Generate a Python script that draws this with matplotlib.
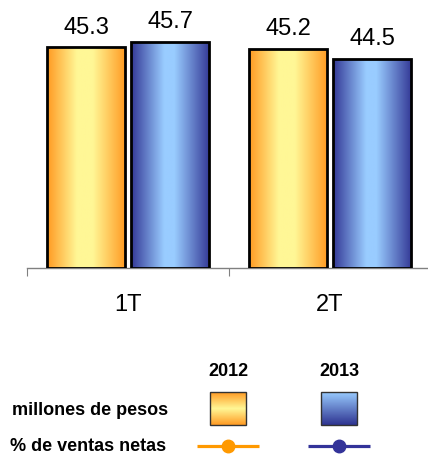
import numpy as np
import matplotlib
matplotlib.use('Agg')
import matplotlib.pyplot as plt
from matplotlib.colors import LinearSegmentedColormap

plt.rcParams['font.family'] = ['Liberation Sans', 'DejaVu Sans']

# values
quarters = ['1T', '2T']
years = ['2012', '2013']
values_2012 = [45.3, 45.2]
values_2013 = [45.7, 44.5]
row_labels = ['millones de pesos', '% de ventas netas']

YMIN, YMAX = 29.75, 47.3

ORANGE_H = LinearSegmentedColormap.from_list(
    'orange_h', [(0, '#FF9A22'), (0.38, '#FFF796'), (0.58, '#FFF796'), (1, '#FF9A22')])
BLUE_H = LinearSegmentedColormap.from_list(
    'blue_h', [(0, '#333896'), (0.42, '#99CCFF'), (0.55, '#99CCFF'), (1, '#333896')])
ORANGE_V = LinearSegmentedColormap.from_list(
    'orange_v', [(0, '#FF9A22'), (0.5, '#FFF796'), (1, '#FF9A22')])
BLUE_V = LinearSegmentedColormap.from_list(
    'blue_v', [(0, '#99CCFF'), (1, '#2E3390')])
LINE_COLORS = ['#FF9900', '#333399']

W, H = 428, 456
fig = plt.figure(figsize=(W / 100, H / 100), dpi=100)


def px_axes(x0, y0, x1, y1):
    # axes box given in pixel coords measured from the top left
    return fig.add_axes([x0 / W, 1 - y1 / H, (x1 - x0) / W, (y1 - y0) / H])


def gradient_fill(ax, rect, cmap, vertical=False):
    x, y = rect.get_xy()
    w, h = rect.get_width(), rect.get_height()
    grad = np.linspace(0, 1, 256)
    grad = grad.reshape(-1, 1) if vertical else grad.reshape(1, -1)
    im = ax.imshow(grad, extent=[x, x + w, y, y + h], origin='upper',
                   aspect='auto', cmap=cmap, zorder=rect.get_zorder() - 0.1)
    im.set_clip_path(rect)


ax = px_axes(27, 20, 431, 269)
x = np.arange(len(quarters))
width = 0.39
offset = 0.208

for vals, cmap, sign in ((values_2012, ORANGE_H, -1), (values_2013, BLUE_H, 1)):
    heights = [v - YMIN for v in vals]
    bars = ax.bar(x + sign * offset, heights, width, bottom=YMIN, facecolor='none',
                  edgecolor='black', linewidth=2, zorder=3)
    for rect, v in zip(bars, vals):
        gradient_fill(ax, rect, cmap)
        ax.annotate('%.1f' % v, (rect.get_x() + rect.get_width() / 2, v),
                    xytext=(0, 7), textcoords='offset points',
                    ha='center', va='bottom', fontsize=17)

ax.set_xlim(-0.5, 1.5)
ax.set_ylim(YMIN, YMAX)
for side in ('top', 'right', 'left'):
    ax.spines[side].set_visible(False)
ax.spines['bottom'].set_color('#808080')
ax.spines['bottom'].set_linewidth(1)
ax.spines['bottom'].set_zorder(1)
ax.set_yticks([])
ax.set_xticks([-0.5, 0.5, 1.5])
ax.set_xticklabels([])
ax.tick_params(axis='x', which='major', length=6, color='#808080', direction='out')
ax.set_xticks(x, minor=True)
ax.set_xticklabels(quarters, minor=True, fontsize=17)
ax.tick_params(axis='x', which='minor', length=0, pad=18)

# legend table at the bottom
lg = px_axes(0, 340, W, H)
lg.axis('off')

col_x = [228, 339]
for cx, yr in zip(col_x, years):
    lg.text(cx, 372, yr, ha='center', va='center', fontsize=13, fontweight='bold')
lg.text(168, 411, row_labels[0], ha='right', va='center', fontsize=13, fontweight='bold')
lg.text(166, 447, row_labels[1], ha='right', va='center', fontsize=13, fontweight='bold')

for cx, cmap in zip(col_x, (ORANGE_V, BLUE_V)):
    sq = plt.Rectangle((cx - 18, 393), 36, 33, facecolor='none',
                       edgecolor='#333333', linewidth=1, zorder=3)
    lg.add_patch(sq)
    grad = np.linspace(0, 1, 256).reshape(-1, 1)
    im = lg.imshow(grad, extent=[cx - 18, cx + 18, 426, 393], aspect='auto',
                   cmap=cmap, zorder=2)
    im.set_clip_path(sq)

for cx, c in zip(col_x, LINE_COLORS):
    lg.plot([cx - 31, cx + 31], [447, 447], color=c, linewidth=2.3,
            solid_capstyle='butt')
    lg.plot([cx], [447], marker='o', color=c, markersize=9)

lg.set_xlim(0, W)
lg.set_ylim(H, 340)

fig.savefig('out.png', dpi=100)
